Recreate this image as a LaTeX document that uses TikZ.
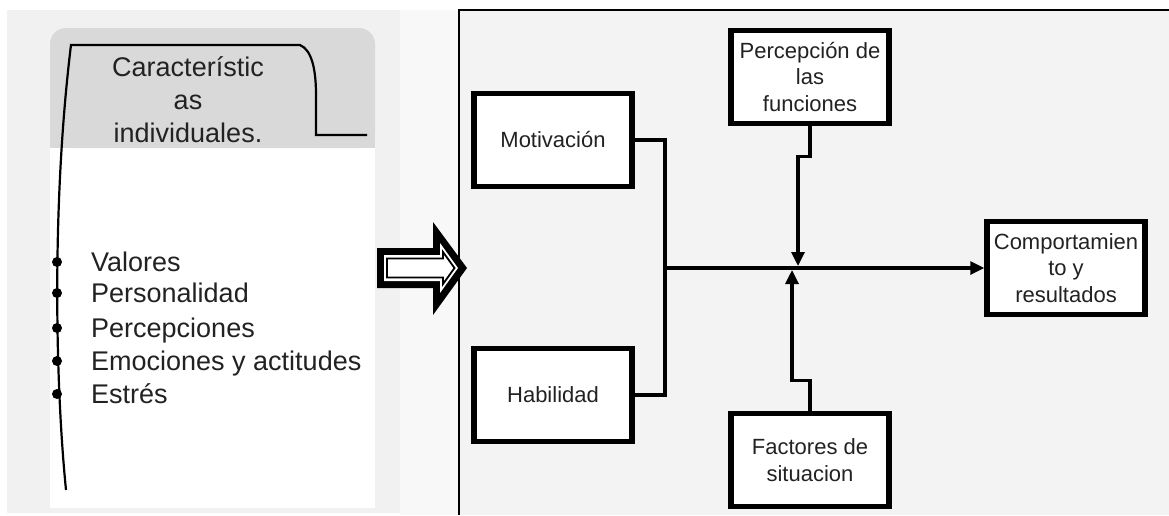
\documentclass[tikz,border=0pt]{standalone}
\usepackage{fontspec}
\setmainfont{Liberation Sans}
\usetikzlibrary{arrows.meta}
\definecolor{txt}{HTML}{222222}
\definecolor{panelL}{HTML}{F1F1F1}
\definecolor{panelR}{HTML}{F3F3F3}
\definecolor{gap}{HTML}{F8F8F8}
\definecolor{hdr}{HTML}{D9D9D9}
\tikzset{
  fbox/.style={draw=black, line width=5.5pt, fill=white, minimum width=158pt, minimum height=93pt,
    align=center, inner sep=0pt, text=txt, font=\fontsize{22}{26.5}\selectfont},
  conn/.style={draw=black, line width=3.2pt},
  arr/.style={conn, -{Triangle[length=14pt,width=13pt]}},
  item/.style={anchor=base west, inner sep=0pt, text=txt, font=\fontsize{27}{33}\selectfont},
  dotb/.style={circle, fill=black, inner sep=0pt, minimum size=10pt}
}
\begin{document}
\begin{tikzpicture}[x=1pt, y=-1pt]
\useasboundingbox (0,0) rectangle (1169,515);
\fill[white] (0,0) rectangle (1169,515);
% panels
\fill[panelL] (7,10) rectangle (400,513);
\fill[gap] (400,10) rectangle (459,515);
\fill[panelR] (459,10) rectangle (1169,515);
% left card
\fill[white] (50,148) rectangle (375,508);
\fill[hdr, rounded corners=16pt] (50,148) -- (50,28) -- (375,28) -- (375,148) -- cycle;
\fill[hdr] (50,130) rectangle (375,148);
% bracket curve
\draw[black, line width=2.2pt] (367,135) -- (316,135) -- (316,95) .. controls (316,70) and (312,50) .. (300,45) -- (71,45)
  .. controls (52,200) and (55,380) .. (66,490);
\node[align=center, inner sep=0pt, text=txt, font=\fontsize{27}{33}\selectfont] (hd) at (188,100) {Característic\\as\\individuales.};
% bullets
\foreach \y/\t/\n in {262/Valores/v, 293/Personalidad/p, 328/Percepciones/pe, 361/Emociones y actitudes/e, 394/Estrés/s}{
  \node[dotb] (d\n) at (57,\y) {};
  \node[item] (t\n) at (91,\y+9.5) {\t};
}
% right panel frame
\draw[black, line width=2.2pt] (459,515) -- (459,10) -- (1169,10);
% big hollow arrow
\fill[black] (377,248) -- (433,248) -- (433,222) -- (467,268) -- (433,315) -- (433,288) -- (377,288) -- cycle;
\fill[white] (384,255) -- (440,255) -- (440,243) -- (458,268) -- (440,293) -- (440,281) -- (384,281) -- cycle;
\draw[black, line width=1.8pt, fill=white] (387,258.5) -- (443,258.5) -- (443,252) -- (454.5,268) -- (443,284) -- (443,277.5) -- (387,277.5) -- cycle;
% boxes
\node[fbox] (mot) at (553,140) {Motivación};
\node[fbox] (hab) at (553,395) {Habilidad};
\node[fbox] (per) at (810,77) {Percepción de\\las\\funciones};
\node[fbox] (fac) at (810,460) {Factores de\\situacion};
\node[fbox] (com) at (1066,268) {Comportamien\\to y\\resultados};
% connectors
\coordinate (j) at (665,268);
\coordinate (tdn) at (798,266);
\coordinate (tup) at (792,270);
\draw[conn] (mot.east) -| (j);
\draw[conn] (hab.east) -| (j);
\draw[arr] (j) -- (com.west);
\draw[arr] (per.south) -- ++(0,30) -| (tdn);
\draw[arr] (fac.north) -- ++(0,-30) -| (tup);
\end{tikzpicture}
\end{document}
